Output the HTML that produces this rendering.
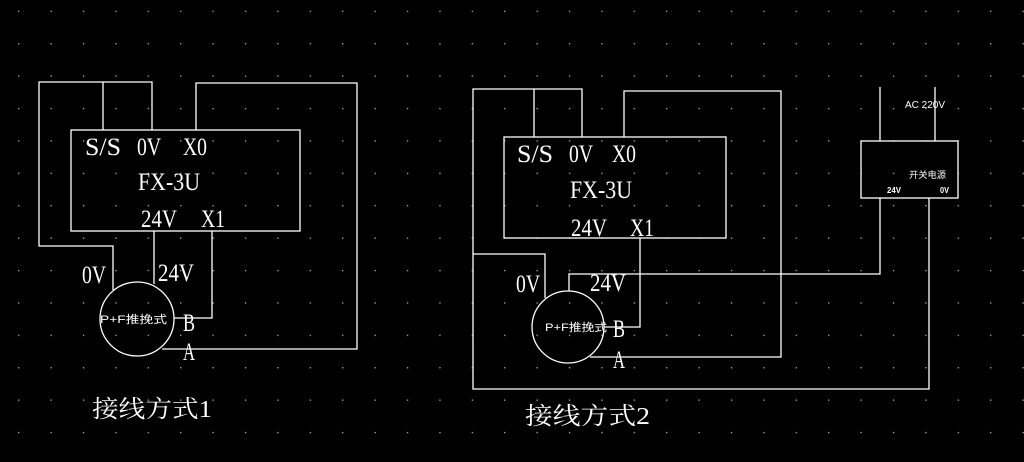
<!DOCTYPE html>
<html><head><meta charset="utf-8"><style>html,body{margin:0;padding:0;background:#000;}svg{display:block}</style></head>
<body>
<svg width="1024" height="462" viewBox="0 0 1024 462" xmlns="http://www.w3.org/2000/svg">
<defs>
<pattern id="g" x="50" y="75" width="32.4" height="32.4" patternUnits="userSpaceOnUse">
<rect x="0.5" y="0.5" width="1.3" height="1.3" fill="#b0b0b0"/>
</pattern>
</defs>
<rect width="1024" height="462" fill="#000"/>
<rect width="1024" height="462" fill="url(#g)"/>
<g stroke="#fff" stroke-width="1.3" fill="none">
<rect x="71" y="130" width="229" height="101"/>
<polyline points="103,130 103,82 39,82 39,246 113,246 113,290"/>
<polyline points="103,82 152,82 152,130"/>
<polyline points="196,130 196,83 357,83 357,349 162,349"/>
<line x1="154" y1="231" x2="154" y2="284"/>
<polyline points="212,231 212,318 174,318"/>
<circle cx="137" cy="319" r="37"/>
<rect x="504" y="137" width="222" height="101"/>
<polyline points="534,137 534,89 473,89 473,389 929,389 929,198"/>
<polyline points="534,89 582,89 582,137"/>
<polyline points="624,137 624,91 781,91 781,357 590,357"/>
<polyline points="473,254 545,254 545,298"/>
<polyline points="569,291 569,274 880,274 880,198"/>
<polyline points="640,238 640,327 604,327"/>
<circle cx="568" cy="327" r="36"/>
<rect x="861" y="141" width="97" height="57"/>
<line x1="880" y1="87" x2="880" y2="141"/>
<line x1="935" y1="87" x2="935" y2="141"/>
</g>
<g fill="#fff" font-family="'Liberation Serif','Noto Serif CJK SC',serif" font-size="25">
<text x="85" y="155" textLength="36" lengthAdjust="spacingAndGlyphs">S/S</text>
<text x="137" y="155" textLength="24" lengthAdjust="spacingAndGlyphs">0V</text>
<text x="183" y="155" textLength="24" lengthAdjust="spacingAndGlyphs">X0</text>
<text x="138" y="190" textLength="62" lengthAdjust="spacingAndGlyphs">FX-3U</text>
<text x="141" y="227" textLength="36" lengthAdjust="spacingAndGlyphs">24V</text>
<text x="201" y="227" textLength="24" lengthAdjust="spacingAndGlyphs">X1</text>
<text x="82" y="283" textLength="24" lengthAdjust="spacingAndGlyphs">0V</text>
<text x="158" y="281" textLength="36" lengthAdjust="spacingAndGlyphs">24V</text>
<text x="183" y="331" textLength="12" lengthAdjust="spacingAndGlyphs">B</text>
<text x="183" y="360" textLength="12" lengthAdjust="spacingAndGlyphs">A</text>
<text x="92" y="417" font-size="24" textLength="120" lengthAdjust="spacingAndGlyphs">接线方式1</text>

<text x="517" y="162" textLength="36" lengthAdjust="spacingAndGlyphs">S/S</text>
<text x="569" y="162" textLength="24" lengthAdjust="spacingAndGlyphs">0V</text>
<text x="612" y="162" textLength="24" lengthAdjust="spacingAndGlyphs">X0</text>
<text x="570" y="198" textLength="62" lengthAdjust="spacingAndGlyphs">FX-3U</text>
<text x="571" y="236" textLength="36" lengthAdjust="spacingAndGlyphs">24V</text>
<text x="630" y="236" textLength="24" lengthAdjust="spacingAndGlyphs">X1</text>
<text x="516" y="292" textLength="24" lengthAdjust="spacingAndGlyphs">0V</text>
<text x="590" y="291" textLength="36" lengthAdjust="spacingAndGlyphs">24V</text>
<text x="613" y="337" textLength="12" lengthAdjust="spacingAndGlyphs">B</text>
<text x="613" y="368" textLength="12" lengthAdjust="spacingAndGlyphs">A</text>
<text x="525" y="424" font-size="24" textLength="125" lengthAdjust="spacingAndGlyphs">接线方式2</text>
</g>
<g fill="#fff" font-family="'Liberation Sans','Noto Sans CJK SC',sans-serif">
<text x="100" y="323" font-size="11" textLength="67" lengthAdjust="spacingAndGlyphs">P+F推挽式</text>
<text x="545" y="331" font-size="11" textLength="62" lengthAdjust="spacingAndGlyphs">P+F推挽式</text>
<text x="905" y="108" font-size="10" textLength="40" lengthAdjust="spacingAndGlyphs">AC 220V</text>
<text x="909" y="178" font-size="9" textLength="37" lengthAdjust="spacingAndGlyphs">开关电源</text>
<text x="887" y="193" font-size="8" font-weight="bold" textLength="14" lengthAdjust="spacingAndGlyphs">24V</text>
<text x="940" y="193" font-size="8" font-weight="bold" textLength="9" lengthAdjust="spacingAndGlyphs">0V</text>
</g>
</svg>
</body></html>
